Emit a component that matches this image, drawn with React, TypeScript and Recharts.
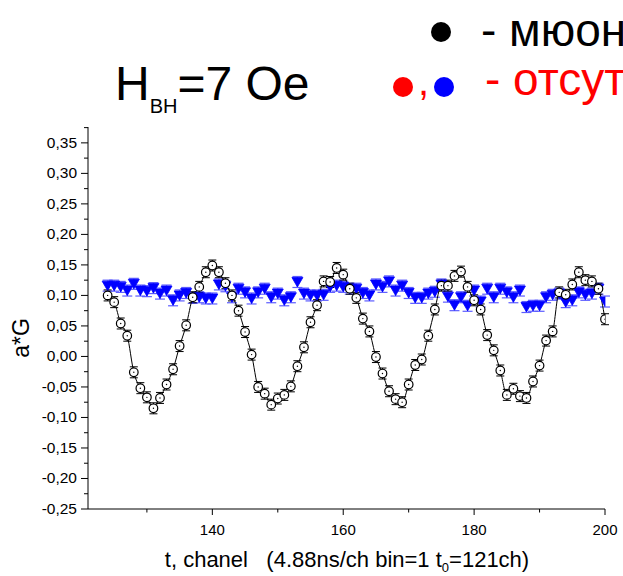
import React from 'react';
import { ComposedChart, Line, XAxis, YAxis, ErrorBar } from 'recharts';

// channels (t0 = 121ch)
const channels = [
    124, 125, 126, 127, 128, 129, 130, 131, 132, 133, 134, 135, 136, 137, 138, 139, 140, 141, 142, 143,
    144, 145, 146, 147, 148, 149, 150, 151, 152, 153, 154, 155, 156, 157, 158, 159, 160, 161, 162, 163,
    164, 165, 166, 167, 168, 169, 170, 171, 172, 173, 174, 175, 176, 177, 178, 179, 180, 181, 182, 183,
    184, 185, 186, 187, 188, 189, 190, 191, 192, 193, 194, 195, 196, 197, 198, 199, 200,
];

// black open circles - мюоний
const muonium = [
    0.100, 0.089, 0.054, 0.034, -0.026, -0.052, -0.067, -0.085, -0.068, -0.046, -0.021, 0.017, 0.051, 0.097, 0.114, 0.138, 0.149, 0.138, 0.120, 0.100,
    0.075, 0.040, 0.003, -0.050, -0.061, -0.079, -0.069, -0.063, -0.049, -0.016, 0.015, 0.056, 0.084, 0.123, 0.122, 0.145, 0.134, 0.111, 0.096, 0.062,
    0.041, -0.001, -0.028, -0.057, -0.070, -0.075, -0.046, -0.014, -0.005, 0.034, 0.077, 0.116, 0.116, 0.132, 0.139, 0.114, 0.092, 0.077, 0.035, 0.010,
    -0.023, -0.063, -0.053, -0.065, -0.068, -0.041, -0.015, 0.026, 0.041, 0.105, 0.101, 0.118, 0.138, 0.125, 0.123, 0.111, 0.061,
];

// blue triangles - отсутствие мюония
const noMuonium = [
    0.116, 0.116, 0.114, 0.108, 0.119, 0.108, 0.107, 0.112, 0.103, 0.108, 0.092, 0.100, 0.104, 0.096, 0.097, 0.095, 0.095, 0.118, 0.115, 0.097,
    0.111, 0.105, 0.095, 0.105, 0.111, 0.097, 0.103, 0.092, 0.097, 0.122, 0.103, 0.100, 0.100, 0.101, 0.114, 0.116, 0.114, 0.111, 0.111, 0.104,
    0.100, 0.118, 0.114, 0.123, 0.108, 0.116, 0.104, 0.096, 0.096, 0.103, 0.106, 0.118, 0.098, 0.084, 0.097, 0.083, 0.108, 0.090, 0.111, 0.097,
    0.111, 0.105, 0.097, 0.108, 0.081, 0.083, 0.083, 0.097, 0.101, 0.103, 0.089, 0.092, 0.105, 0.101, 0.103, 0.111, 0.090,
];

const MU_ERR = 0.009;
const BLUE_ERR = 0.009;

const xMajorTicks = [140, 160, 180, 200];
const xMinorTicks = [130, 150, 170, 190];
const yMajorTicks = [-0.25, -0.2, -0.15, -0.1, -0.05, 0, 0.05, 0.1, 0.15, 0.2, 0.25, 0.3, 0.35];
const yMinorTicks = [-0.225, -0.175, -0.125, -0.075, -0.025, 0.025, 0.075, 0.125, 0.175, 0.225, 0.275, 0.325, 0.375];

const data = channels.map((ch, i) => ({
    ch,
    mu: muonium[i],
    muErr: MU_ERR,
    blue: noMuonium[i],
    blueErr: BLUE_ERR,
}));

const FONT = '"Liberation Sans", Arial, sans-serif';

const XTick = (props: any) => {
    const { x, y, payload } = props;
    const major = xMajorTicks.includes(payload.value);
    return (
        <g>
            <line x1={x} x2={x} y1={y} y2={y + (major ? 6 : 3.5)} stroke="#000" />
            {major && (
                <text x={x} y={y} dy={26} textAnchor="middle" fontSize={15} fontFamily={FONT} fill="#000">
                    {payload.value}
                </text>
            )}
        </g>
    );
};

const YTick = (props: any) => {
    const { x, y, payload } = props;
    const v = payload.value as number;
    const major = yMajorTicks.some((t) => Math.abs(t - v) < 1e-9);
    return (
        <g>
            <line x1={x} x2={x - (major ? 7 : 4)} y1={y} y2={y} stroke="#000" />
            {major && (
                <text x={x - 11} y={y} dy={5} textAnchor="end" fontSize={15.5} fontFamily={FONT} fill="#000">
                    {v.toFixed(2).replace('.', ',')}
                </text>
            )}
        </g>
    );
};

const circleDot = (p: any) => (
    <g key={`c${p.index}`}>
        <circle cx={p.cx} cy={p.cy} r={4.3} fill="#fff" stroke="#000" strokeWidth={1.2} />
        <circle cx={p.cx} cy={p.cy} r={0.7} fill="#000" />
    </g>
);

const triangleDot = (p: any) => (
    <path
        key={`t${p.index}`}
        d={`M${p.cx - 5.5},${p.cy - 4.5} L${p.cx + 5.5},${p.cy - 4.5} L${p.cx},${p.cy + 5} Z`}
        fill="#0000ff"
        stroke="#0000ff"
        strokeWidth={0.8}
    />
);

export default function App() {
    return (
        <div style={{ position: 'absolute', left: 0, top: 0, width: 623, height: 576, overflow: 'hidden', background: '#fff' }}>
            <ComposedChart
                width={623}
                height={576}
                data={data}
                margin={{ top: 127, right: 18, bottom: 37, left: 28 }}
            >
                <XAxis
                    dataKey="ch"
                    type="number"
                    domain={[121, 200]}
                    ticks={[...xMinorTicks, ...xMajorTicks].sort((a, b) => a - b)}
                    interval={0}
                    tickSize={0}
                    tickMargin={0}
                    tickLine={false}
                    tick={<XTick />}
                    stroke="#000"
                    height={30}
                    allowDataOverflow
                />
                <YAxis
                    type="number"
                    domain={[-0.25, 0.376]}
                    ticks={[...yMajorTicks, ...yMinorTicks].sort((a, b) => a - b)}
                    interval={0}
                    tickSize={0}
                    tickMargin={0}
                    tickLine={false}
                    tick={<YTick />}
                    stroke="#000"
                    width={60}
                    allowDataOverflow
                />
                <Line
                    dataKey="blue"
                    stroke="none"
                    dot={triangleDot}
                    activeDot={false}
                    isAnimationActive={false}
                >
                    <ErrorBar dataKey="blueErr" width={5} stroke="#5c5cff" strokeWidth={1.2} />
                </Line>
                <Line
                    dataKey="mu"
                    type="monotone"
                    stroke="#000"
                    strokeWidth={1}
                    dot={circleDot}
                    activeDot={false}
                    isAnimationActive={false}
                >
                    <ErrorBar dataKey="muErr" width={4} stroke="#000" strokeWidth={1} />
                </Line>
            </ComposedChart>

            {/* title, legend and axis titles */}
            <svg
                width={623}
                height={576}
                style={{ position: 'absolute', left: 0, top: 0, pointerEvents: 'none' }}
                fontFamily={FONT}
            >
                <text x={115} y={100} fontSize={48} fill="#000">
                    H
                    <tspan fontSize={20} dy={13}>ВН</tspan>
                    <tspan fontSize={48} dy={-13}>=7 Oe</tspan>
                </text>

                <circle cx={441} cy={32} r={10} fill="#000" />
                <text x={481} y={46} fontSize={46} fill="#000">- мюоний</text>

                <circle cx={403} cy={87} r={10} fill="#ff0000" />
                <text x={418} y={95} fontSize={40} fill="#ff0000">,</text>
                <circle cx={444} cy={87} r={10} fill="#0000ff" />
                <text x={485} y={95} fontSize={46} fill="#ff0000">- отсутствие мюония</text>

                <text
                    transform="translate(29,338) rotate(-90)"
                    textAnchor="middle"
                    fontSize={23}
                    fill="#000"
                >
                    a*G
                </text>

                <text x={347} y={567} textAnchor="middle" fontSize={22} fill="#000" xmlSpace="preserve">
                    {'t, chanel   (4.88ns/ch bin=1 t'}
                    <tspan fontSize={13} dy={5}>0</tspan>
                    <tspan dy={-5}>=121ch)</tspan>
                </text>
            </svg>
        </div>
    );
}
